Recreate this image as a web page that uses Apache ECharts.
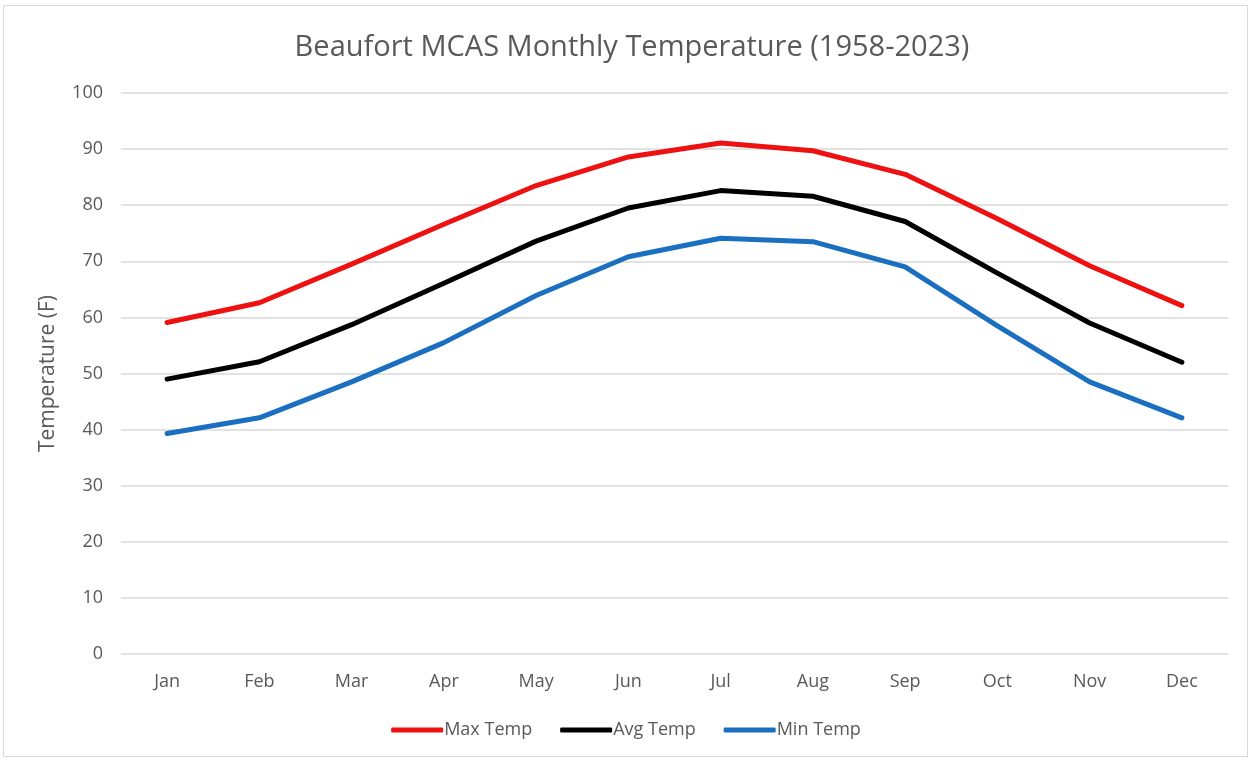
<!DOCTYPE html>
<html>
<head>
<meta charset="utf-8">
<script src="https://cdn.jsdelivr.net/npm/echarts@6/dist/echarts.min.js"></script>
<style>
html,body{margin:0;padding:0;background:#fff;}
#frame{position:absolute;left:3px;top:5px;width:1245px;height:752px;border:1px solid #d9d9d9;box-sizing:border-box;}
#chart{position:absolute;left:0;top:0;width:1252px;height:760px;}
</style>
</head>
<body>
<div id="frame"></div>
<div id="chart"></div>
<script>
const months = ['Jan','Feb','Mar','Apr','May','Jun','Jul','Aug','Sep','Oct','Nov','Dec'];
const maxTemp = [59.1, 62.6, 69.5, 76.6, 83.5, 88.6, 91.1, 89.7, 85.5, 77.6, 69.2, 62.1];
const avgTemp = [49.0, 52.1, 58.7, 66.1, 73.6, 79.5, 82.6, 81.6, 77.1, 67.9, 59.0, 52.0];
const minTemp = [39.3, 42.1, 48.5, 55.5, 63.9, 70.8, 74.1, 73.5, 69.0, 58.5, 48.5, 42.1];
const yTicks = {min: 0, max: 100, interval: 10};

const font = '"Open Sans", "Liberation Sans", sans-serif';
const chart = echarts.init(document.getElementById('chart'), null, {renderer: 'canvas'});
function line(name, data, color) {
  return {
    name, type: 'line', data, symbol: 'none', smooth: false,
    lineStyle: {color, width: 5, cap: 'round', join: 'round'},
    itemStyle: {color}
  };
}
chart.setOption({
  animation: false,
  backgroundColor: 'transparent',
  title: {
    text: 'Beaufort MCAS Monthly Temperature (1958-2023)',
    left: 627, top: 28, textAlign: 'center',
    textStyle: {fontFamily: font, fontSize: 29, fontWeight: 'normal', color: '#595959'}
  },
  legend: {
    bottom: 16, left: 'center',
    itemWidth: 52, itemHeight: 5, itemGap: 28,
    icon: 'roundRect',
    textStyle: {fontFamily: font, fontSize: 18, color: '#595959', padding: [0,0,0,-4]},
    data: ['Max Temp','Avg Temp','Min Temp']
  },
  grid: {left: 121, right: 24, top: 93, bottom: 106, containLabel: false},
  xAxis: {
    type: 'category', data: months, boundaryGap: true,
    axisLine: {show: false}, axisTick: {show: false},
    axisLabel: {fontFamily: font, fontSize: 18, color: '#595959', margin: 19}
  },
  yAxis: {
    type: 'value', min: yTicks.min, max: yTicks.max, interval: yTicks.interval,
    name: 'Temperature (F)', nameLocation: 'middle', nameGap: 62, nameRotate: 90,
    nameTextStyle: {fontFamily: font, fontSize: 21, color: '#595959'},
    axisLine: {show: false}, axisTick: {show: false},
    axisLabel: {fontFamily: font, fontSize: 18, color: '#595959', margin: 18},
    splitLine: {lineStyle: {color: '#d9d9d9', width: 1.5}}
  },
  series: [
    line('Max Temp', maxTemp, '#ee1111'),
    line('Avg Temp', avgTemp, '#000000'),
    line('Min Temp', minTemp, '#1a6fc0')
  ]
});
</script>
</body>
</html>
